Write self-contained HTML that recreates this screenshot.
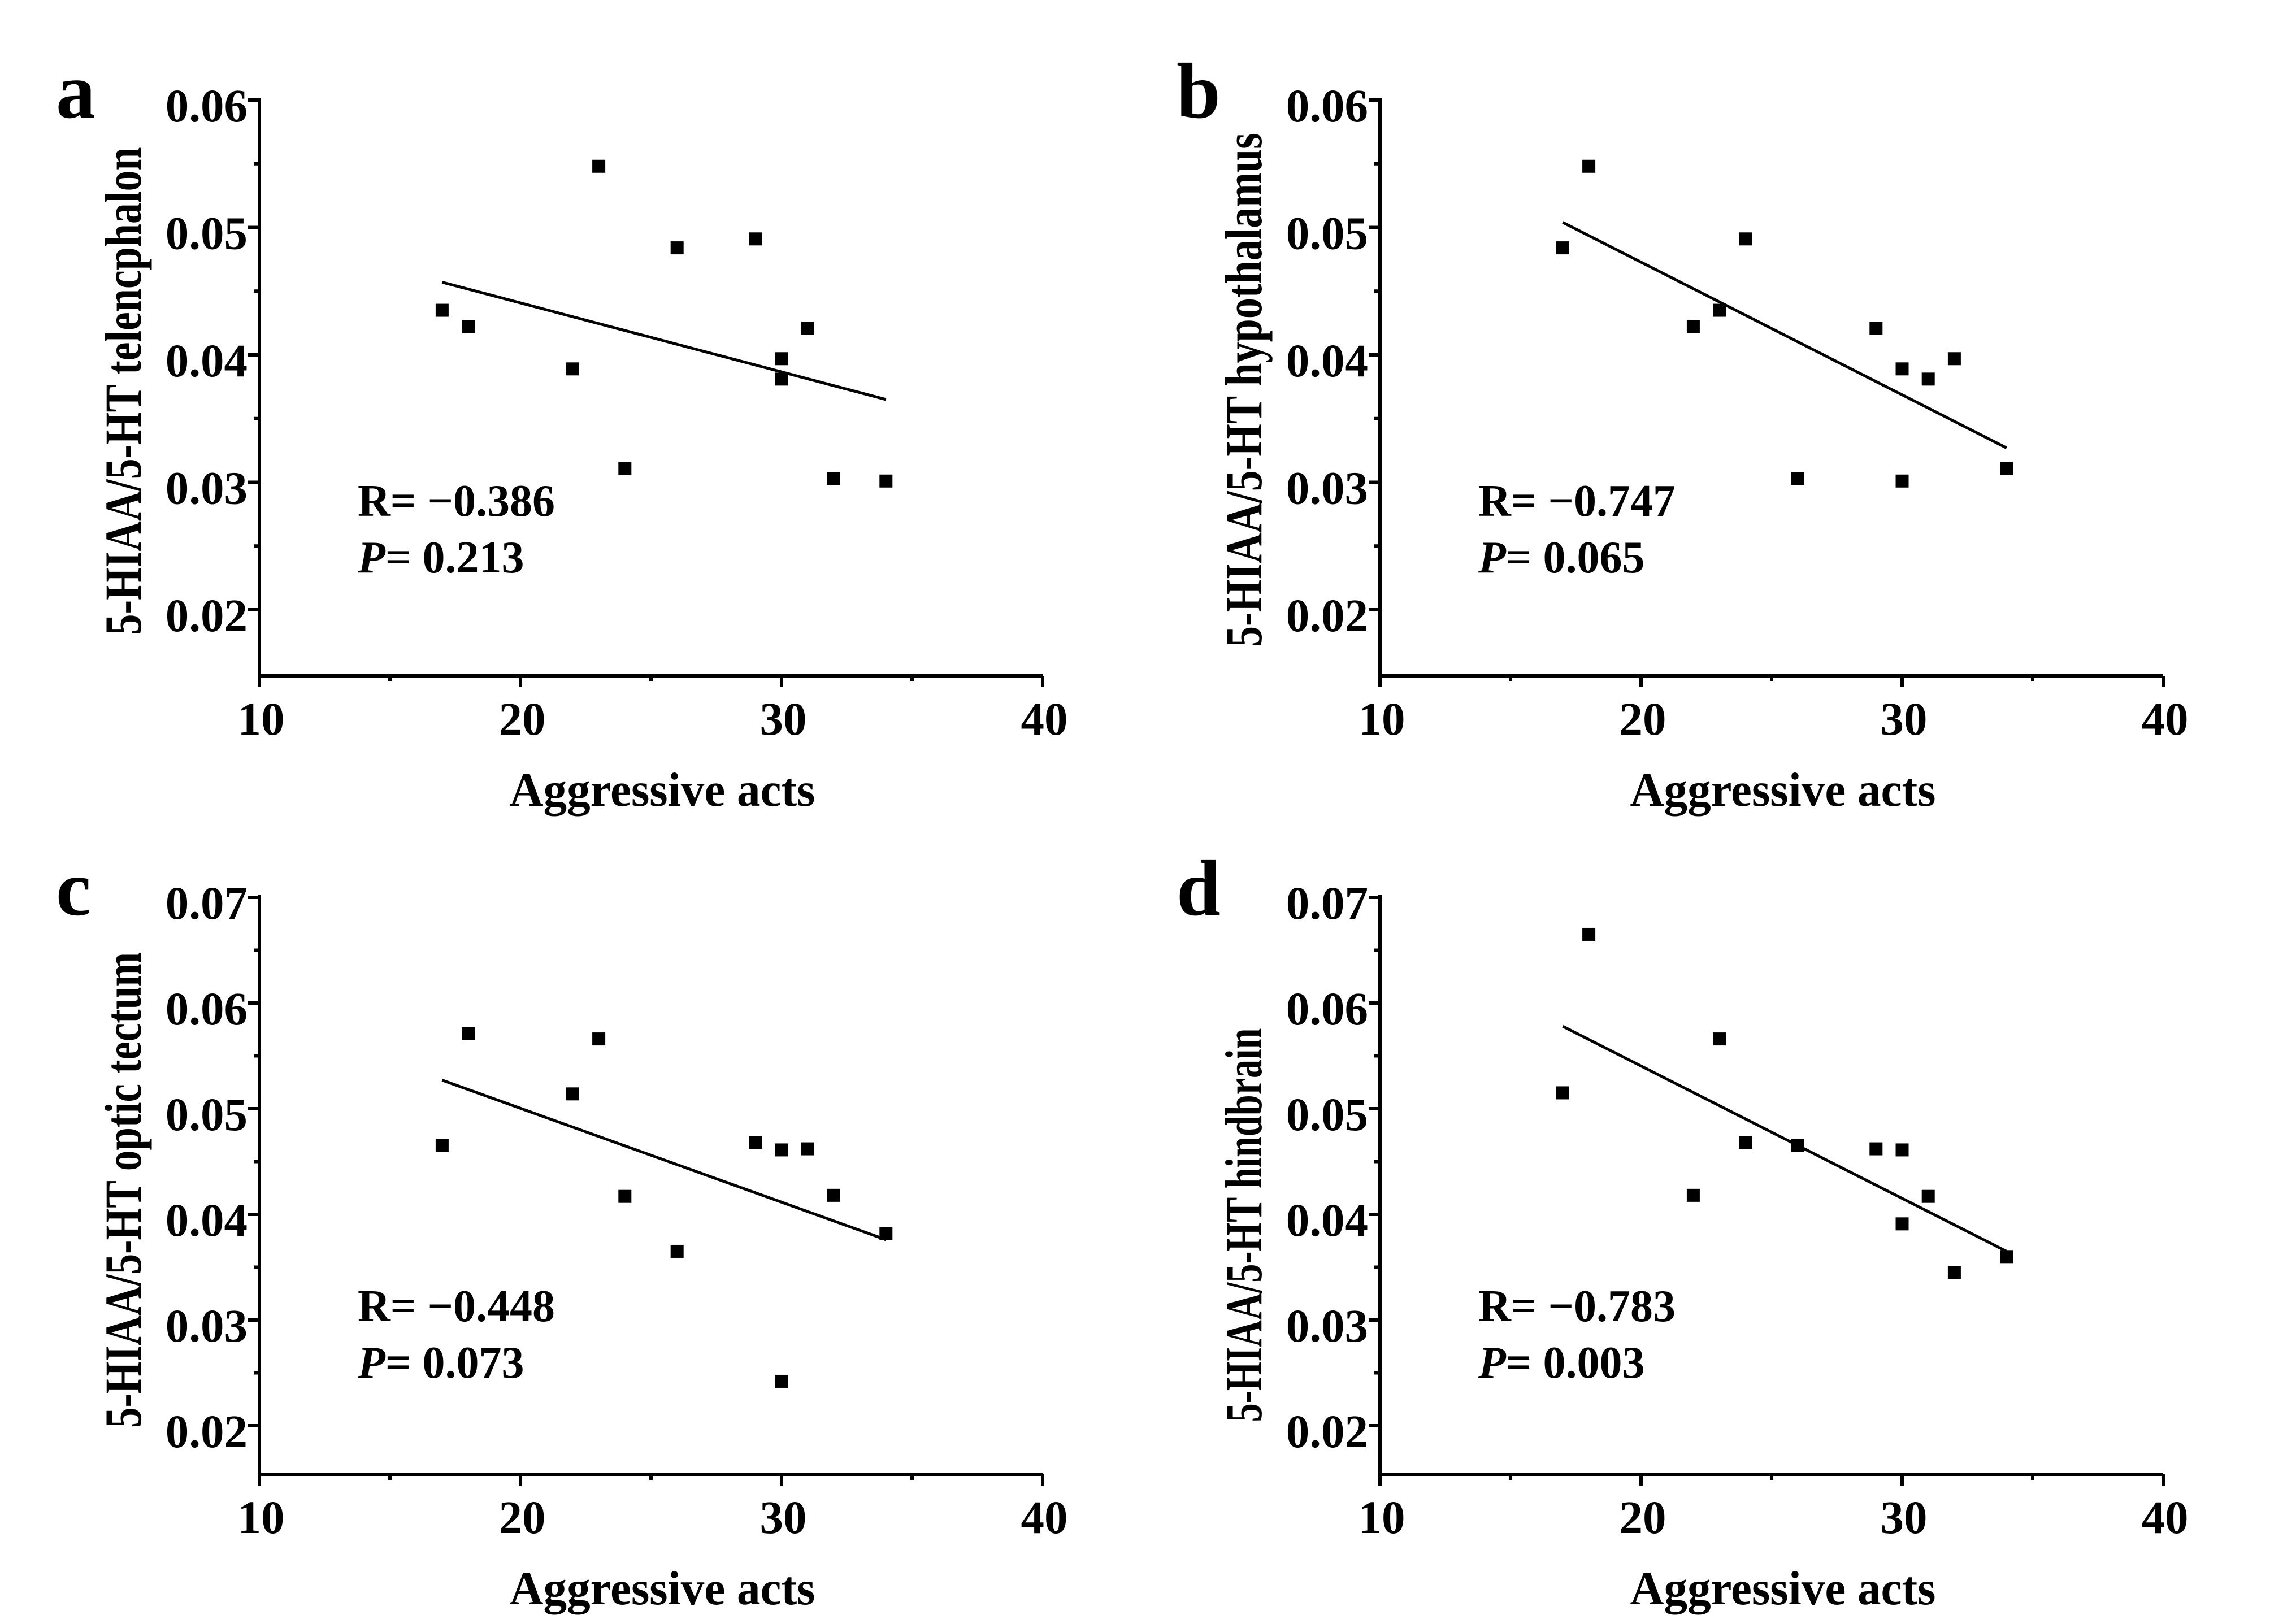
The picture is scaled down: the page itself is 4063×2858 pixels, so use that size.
<!DOCTYPE html>
<html><head><meta charset="utf-8"><style>
html,body{margin:0;padding:0;background:#fff}
svg{display:block}
text{font-family:"Liberation Serif",serif;font-weight:bold;fill:#000}
</style></head><body>
<svg id="fig" width="4063" height="2858" viewBox="0 0 4063 2858" xmlns="http://www.w3.org/2000/svg"></svg>
<script>
const xTicks = [10, 20, 30, 40];
const xsA = [17, 18, 22, 23, 24, 26, 29, 30, 30, 31, 32, 34];
const ysA = [0.0435, 0.0422, 0.0389, 0.0548, 0.0311, 0.0484, 0.0491, 0.0397, 0.0381, 0.0421, 0.0303, 0.0301];
const fitA = [0.0457, 0.0365];
const xsB = [17, 18, 22, 23, 24, 26, 29, 30, 30, 31, 32, 34];
const ysB = [0.0484, 0.0548, 0.0422, 0.0435, 0.0491, 0.0303, 0.0421, 0.0389, 0.0301, 0.0381, 0.0397, 0.0311];
const fitB = [0.0504, 0.0327];
const xsC = [17, 18, 22, 23, 24, 26, 29, 30, 30, 31, 32, 34];
const ysC = [0.0465, 0.0571, 0.0514, 0.0566, 0.0417, 0.0365, 0.0468, 0.0461, 0.0242, 0.0462, 0.0418, 0.0382];
const fitC = [0.0527, 0.0376];
const xsD = [17, 18, 22, 23, 24, 26, 29, 30, 30, 31, 32, 34];
const ysD = [0.0515, 0.0665, 0.0418, 0.0566, 0.0468, 0.0465, 0.0462, 0.0461, 0.0391, 0.0417, 0.0345, 0.0360];
const fitD = [0.0578, 0.0365];
const fitX = [17, 34];
const yTicksTop = [0.02, 0.03, 0.04, 0.05, 0.06];
const yTicksBot = [0.02, 0.03, 0.04, 0.05, 0.06, 0.07];
const yLabelsTop = ["0.02", "0.03", "0.04", "0.05", "0.06"];
const yLabelsBot = ["0.02", "0.03", "0.04", "0.05", "0.06", "0.07"];

const NS = "http://www.w3.org/2000/svg";
const svg = document.getElementById("fig");
function mk(tag, attrs, parent, txt) {
  const e = document.createElementNS(NS, tag);
  for (const k in attrs) e.setAttribute(k, attrs[k]);
  if (txt !== undefined) e.textContent = txt;
  (parent || svg).appendChild(e);
  return e;
}

const panels = [
  {id:"a", ox:459, y02:1079, step:22550, ymax:0.06, xs:xsA, ys:ysA, fit:fitA, ticks:yTicksTop, labels:yLabelsTop,
   title:"5-HIAA/5-HT telencphalon", tLen:863, tCy:692, bottom:1196, top:173, R:"R= \u22120.386", P:"= 0.213", ry:913},
  {id:"b", ox:2442, y02:1079, step:22550, ymax:0.06, xs:xsB, ys:ysB, fit:fitB, ticks:yTicksTop, labels:yLabelsTop,
   title:"5-HIAA/5-HT hypothalamus", tLen:910, tCy:690, bottom:1196, top:173, R:"R= \u22120.747", P:"= 0.065", ry:913},
  {id:"c", ox:459, y02:2523, step:18700, ymax:0.07, xs:xsC, ys:ysC, fit:fitC, ticks:yTicksBot, labels:yLabelsBot,
   title:"5-HIAA/5-HT optic tectum", tLen:842, tCy:2106, bottom:2609, top:1584, R:"R= \u22120.448", P:"= 0.073", ry:2338},
  {id:"d", ox:2442, y02:2523, step:18700, ymax:0.07, xs:xsD, ys:ysD, fit:fitD, ticks:yTicksBot, labels:yLabelsBot,
   title:"5-HIAA/5-HT hindbrain", tLen:697, tCy:2168, bottom:2609, top:1584, R:"R= \u22120.783", P:"= 0.003", ry:2338}
];

panels.forEach(p => {
  const xScale = v => p.ox + (v - 10) * 46.2;
  const yScale = v => p.y02 - (v - 0.02) * p.step;
  const g = mk("g", {});
  
  

  const lt = mk("text", {x: p.ox - 360, y: p.top + 35, "font-size": 140}, g, p.id);
  
  

  const xEnd = xScale(40);
  const ax = mk("path", {d:`M${p.ox} ${p.top} V${p.bottom} H${xEnd}`, stroke:"#000", "stroke-width":6, fill:"none"}, g);
  
  

  // y ticks
  p.ticks.forEach((t, i) => {
    const y = yScale(t);
    const tk = mk("line", {x1:p.ox - 20, x2:p.ox, y1:y, y2:y, stroke:"#000", "stroke-width":6}, g);
    
    
    const lb = mk("text", {x:p.ox - 21, y:y + 38, "font-size":83, "text-anchor":"end"}, g, p.labels[i]);
    
    
    const mv = t + 0.005;
    if (mv <= p.ymax + 1e-9) {
      const my = yScale(mv);
      const mt = mk("line", {x1:p.ox - 10, x2:p.ox, y1:my, y2:my, stroke:"#000", "stroke-width":6}, g);
      
      
    }
  });
  // x ticks
  xTicks.forEach((t, i) => {
    const x = xScale(t);
    const tk = mk("line", {x1:x, x2:x, y1:p.bottom, y2:p.bottom + 20, stroke:"#000", "stroke-width":6}, g);
    
    
    const lb = mk("text", {x:x + 3, y:p.bottom + 104, "font-size":83, "text-anchor":"middle"}, g, String(t));
    
    
    if (i < xTicks.length - 1) {
      const mx = xScale(t + 5);
      const mt = mk("line", {x1:mx, x2:mx, y1:p.bottom, y2:p.bottom + 10, stroke:"#000", "stroke-width":6}, g);
      
      
    }
  });
  // axis titles
  const xt = mk("text", {x:(p.ox + xEnd) / 2 + 20, y:p.bottom + 230, "font-size":85, "text-anchor":"middle", textLength:541, lengthAdjust:"spacingAndGlyphs"}, g, "Aggressive acts");
  
  
  const bx = p.ox - 210;
  const yt = mk("text", {x:0, y:0, "font-size":92, "text-anchor":"middle", textLength:p.tLen, lengthAdjust:"spacingAndGlyphs",
    transform:`translate(${bx} ${p.tCy}) rotate(-90)`}, g, p.title);
  
  

  // regression line
  const fl = mk("line", {x1:xScale(fitX[0]), y1:yScale(p.fit[0]), x2:xScale(fitX[1]), y2:yScale(p.fit[1]), stroke:"#000", "stroke-width":5}, g);
  
  

  // points
  p.xs.forEach((xv, i) => {
    const s = 23;
    const r = mk("rect", {x:xScale(xv) - s / 2, y:yScale(p.ys[i]) - s / 2, width:s, height:s, fill:"#000"}, g);
    
    
  });

  // stats text
  const rx = p.ox + 174;
  const rt = mk("text", {x:rx, y:p.ry, "font-size":80}, g, p.R);
  
  
  const pt = mk("text", {x:rx, y:p.ry + 100, "font-size":80}, g);
  
  
  mk("tspan", {"font-style":"italic"}, pt, "P");
  mk("tspan", {}, pt, p.P);
});
</script>
</body></html>
